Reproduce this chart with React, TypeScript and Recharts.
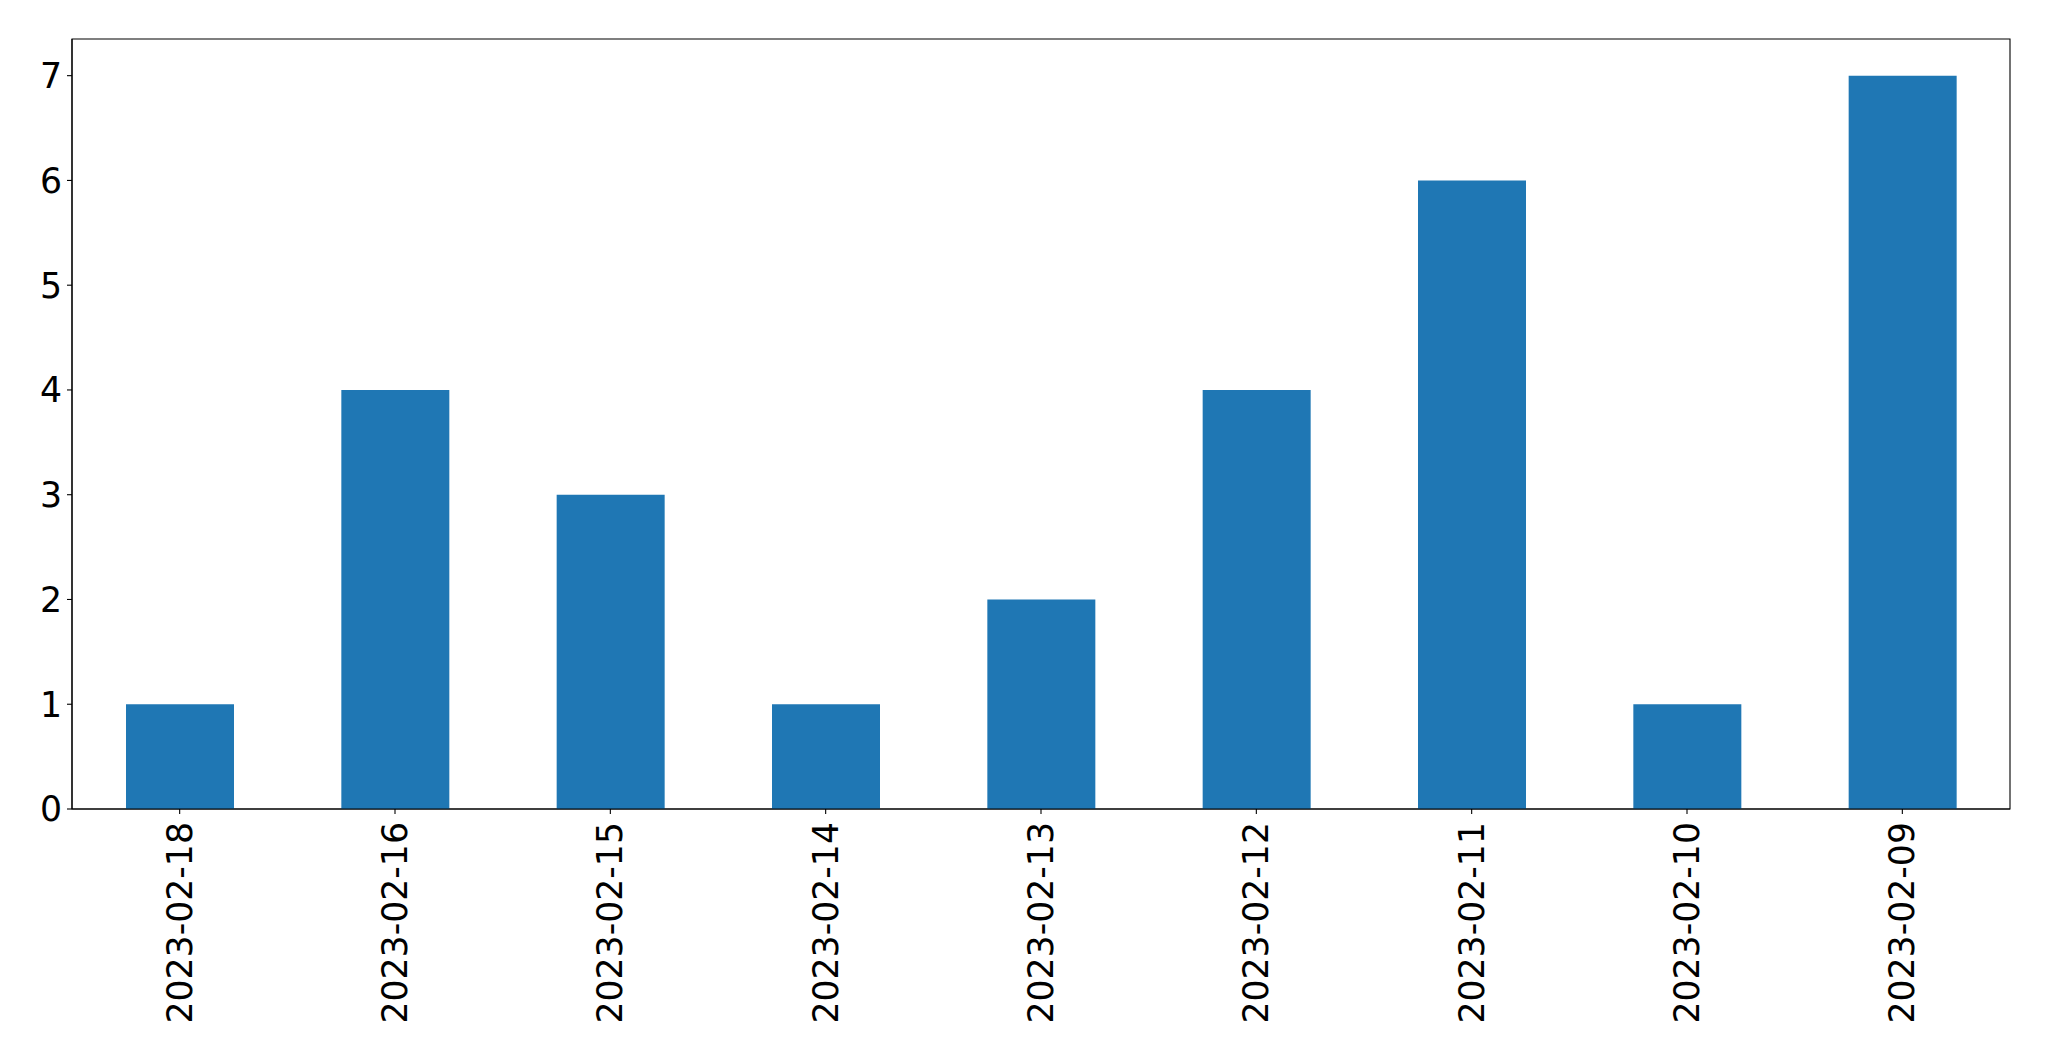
import React from 'react';
import { BarChart, Bar, XAxis, YAxis, ReferenceArea } from 'recharts';

const categories = ['2023-02-18', '2023-02-16', '2023-02-15', '2023-02-14', '2023-02-13', '2023-02-12', '2023-02-11', '2023-02-10', '2023-02-09'];
const counts = [1, 4, 3, 1, 2, 4, 6, 1, 7];
const yTicks = [0, 1, 2, 3, 4, 5, 6, 7];
const yMax = 7.35;

const data = categories.map((c, i) => ({ date: c, count: counts[i] }));

const FONT = '"DejaVu Sans", sans-serif';
const FS = 34.7;

const XTick = (props: any) => {
  const { x, y, payload } = props;
  const ty = y + 3;
  return (
    <text
      x={x}
      y={ty}
      transform={`rotate(-90, ${x}, ${ty})`}
      textAnchor="end"
      dy="0.35em"
      fontSize={FS}
      fontFamily={FONT}
      fill="#000"
    >
      {payload.value}
    </text>
  );
};

export default function App() {
  return (
    <div style={{ position: 'absolute', left: 0, top: 0, background: '#fff' }}>
      <BarChart
        width={2049}
        height={1061}
        data={data}
        margin={{ top: 39, right: 39, left: 0, bottom: 0 }}
      >
        <XAxis
          dataKey="date"
          height={252}
          tickSize={5}
          tickMargin={5}
          interval={0}
          axisLine={{ stroke: '#000', strokeWidth: 1.1 }}
          tickLine={{ stroke: '#000', strokeWidth: 1.1 }}
          tick={<XTick />}
        />
        <YAxis
          width={72}
          domain={[0, yMax]}
          ticks={yTicks}
          allowDataOverflow
          tickSize={5}
          tickMargin={5}
          axisLine={{ stroke: '#000', strokeWidth: 1.1 }}
          tickLine={{ stroke: '#000', strokeWidth: 1.1 }}
          tick={{ fontSize: FS, fontFamily: FONT, fill: '#000' }}
        />
        <Bar
          dataKey="count"
          fill="#1f77b4"
          barSize={108}
          isAnimationActive={false}
        />
        <ReferenceArea
          y1={0}
          y2={yMax}
          fill="none"
          fillOpacity={0}
          stroke="#000"
          strokeWidth={1.1}
          ifOverflow="extendDomain"
        />
      </BarChart>
    </div>
  );
}
